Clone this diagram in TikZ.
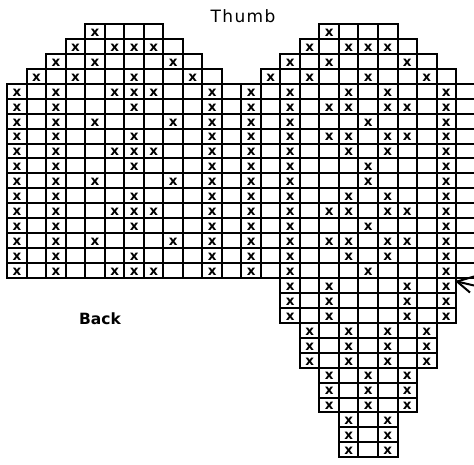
\documentclass[tikz,border=0pt]{standalone}
\usepackage{fontspec}
\setmainfont{DejaVu Sans}
\newcommand\CX[1]{7.3+19.51*(#1)}
\newcommand\RY[1]{24+14.94*((#1)-1)}
\newcommand\cellrow[3]{\foreach \cc in {#2,...,#3}{\draw[gridline] ({\CX{\cc}},{\RY{#1}}) rectangle ++(19.51,14.94);}}
\newcommand\xrow[2]{\foreach \cc in {#2}{\node[xmk] (x-#1-\cc) at ({\CX{\cc+0.5}},{\RY{#1+0.5}+1.2}) {x};}}
\begin{document}
\begin{tikzpicture}[x=1pt,y=-1pt,
  gridline/.style={draw=black,line width=2pt,line join=miter},
  xmk/.style={font=\bfseries\fontsize{13.5}{13.5}\selectfont,inner sep=0pt,text=black},
  lbl/.style={inner sep=0pt,text=black}]
\useasboundingbox (0,0) rectangle (474,464);
\clip (0,0) rectangle (474,464);
% grid cells
\cellrow{1}{4}{7}\cellrow{1}{16}{19}
\cellrow{2}{3}{8}\cellrow{2}{15}{20}
\cellrow{3}{2}{9}\cellrow{3}{14}{21}
\cellrow{4}{1}{10}\cellrow{4}{13}{22}
\foreach \r in {5,...,17}{\cellrow{\r}{0}{23}}
\foreach \r in {18,19,20}{\cellrow{\r}{14}{22}}
\foreach \r in {21,22,23}{\cellrow{\r}{15}{21}}
\foreach \r in {24,25,26}{\cellrow{\r}{16}{20}}
\foreach \r in {27,28,29}{\cellrow{\r}{17}{19}}
% marks
\xrow{1}{4,16}
\xrow{2}{3,5,6,7,15,17,18,19}
\xrow{3}{2,4,8,14,16,20}
\xrow{4}{1,3,6,9,13,15,18,21}
\xrow{5}{0,2,5,6,7,10,12,14,17,19,22}
\xrow{6}{0,2,6,10,12,14,16,17,19,20,22}
\xrow{7}{0,2,4,8,10,12,14,18,22}
\xrow{8}{0,2,6,10,12,14,16,17,19,20,22}
\xrow{9}{0,2,5,6,7,10,12,14,17,19,22}
\xrow{10}{0,2,6,10,12,14,18,22}
\xrow{11}{0,2,4,8,10,12,14,18,22}
\xrow{12}{0,2,6,10,12,14,17,19,22}
\xrow{13}{0,2,5,6,7,10,12,14,16,17,19,20,22}
\xrow{14}{0,2,6,10,12,14,18,22}
\xrow{15}{0,2,4,8,10,12,14,16,17,19,20,22}
\xrow{16}{0,2,6,10,12,14,17,19,22}
\xrow{17}{0,2,5,6,7,10,12,14,18,22}
\foreach \r in {18,19,20}{\xrow{\r}{14,16,20,22}}
\foreach \r in {21,22,23}{\xrow{\r}{15,17,19,21}}
\foreach \r in {24,25,26}{\xrow{\r}{16,18,20}}
\foreach \r in {27,28,29}{\xrow{\r}{17,19}}
% labels
\node[lbl,font=\fontsize{17}{17}\selectfont\addfontfeatures{LetterSpace=8}] (thumb) at (243,16) {Thumb};
\node[lbl,font=\bfseries\fontsize{15.5}{16}\selectfont] (back) at (100,318.5) {Back};
% arrow
\coordinate (tip) at (457,281.5);
\draw[line width=2pt,line join=miter] (474,276.5) -- (tip) -- (470,292.5);
\draw[line width=2pt] (tip) -- (474,285.5);
\end{tikzpicture}
\end{document}
